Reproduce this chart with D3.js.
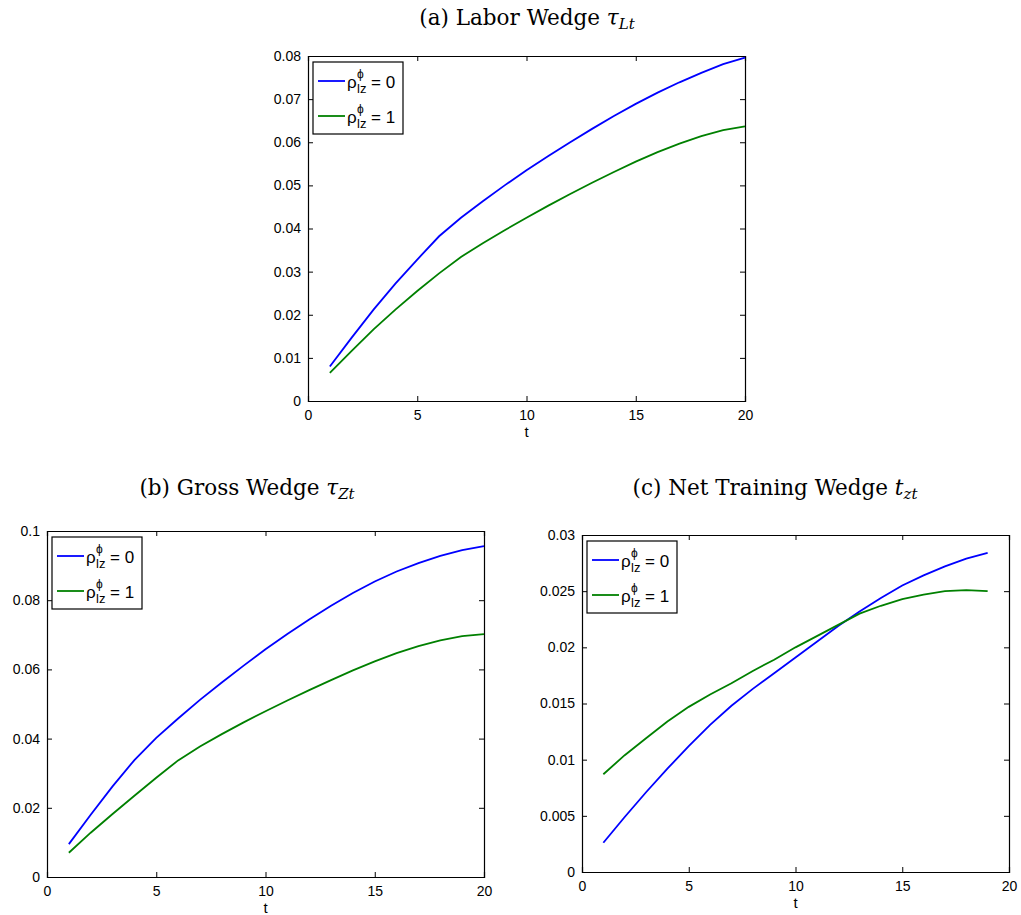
<!DOCTYPE html>
<html lang="en">
<head>
<meta charset="UTF-8">
<title>Wedges</title>
<style>
    body { margin: 0; background: #fff; }
    .tick text { font-family: "Liberation Sans", Arial, sans-serif; font-size: 14px; fill: #000; }
    .ptitle { font-family: "DejaVu Serif", serif; font-size: 21.5px; fill: #000; }
    .leg { font-family: "Liberation Sans", Arial, sans-serif; fill: #000; }
</style>
</head>
<body>
<script src="https://cdn.jsdelivr.net/npm/d3@7"></script>
<script>
    // t = 1..20 (net wedge stops at 19)
    var tVals = d3.range(1, 21)
    var tValsNet = d3.range(1, 20)

    // (a) labor wedge
    var laborRho0 = [0.0080, 0.0147, 0.0212, 0.0272, 0.0328, 0.0382, 0.0425, 0.0463, 0.0500, 0.0535,
                     0.0568, 0.0600, 0.0631, 0.0661, 0.0689, 0.0715, 0.0739, 0.0761, 0.0781, 0.0796]
    var laborRho1 = [0.0065, 0.0116, 0.0166, 0.0212, 0.0255, 0.0296, 0.0334, 0.0366, 0.0396, 0.0425,
                     0.0453, 0.0480, 0.0506, 0.0531, 0.0555, 0.0577, 0.0597, 0.0614, 0.0628, 0.0637]
    // (b) gross wedge
    var grossRho0 = [0.0095, 0.0180, 0.0262, 0.0338, 0.0402, 0.0458, 0.0512, 0.0562, 0.0611, 0.0658,
                     0.0702, 0.0744, 0.0784, 0.0821, 0.0854, 0.0883, 0.0907, 0.0928, 0.0945, 0.0956]
    var grossRho1 = [0.0070, 0.0128, 0.0182, 0.0235, 0.0287, 0.0337, 0.0377, 0.0413, 0.0447, 0.0479,
                     0.0510, 0.0540, 0.0569, 0.0597, 0.0623, 0.0647, 0.0667, 0.0684, 0.0696, 0.0702]
    // (c) net training wedge
    var netRho0 = [0.0026, 0.0049, 0.0071, 0.0092, 0.0112, 0.0131, 0.0148, 0.0163, 0.0177, 0.0191,
                   0.0205, 0.0219, 0.0232, 0.0244, 0.0255, 0.0264, 0.0272, 0.0279, 0.0284]
    var netRho1 = [0.0087, 0.0104, 0.0119, 0.0134, 0.0147, 0.0158, 0.0168, 0.0179, 0.0189, 0.0200,
                   0.0210, 0.0220, 0.0230, 0.0237, 0.0243, 0.0247, 0.0250, 0.0251, 0.0250]

    var xTicks = [0, 5, 10, 15, 20]
    var laborTicks = [0, 0.01, 0.02, 0.03, 0.04, 0.05, 0.06, 0.07, 0.08]
    var laborTickLabels = ['0', '0.01', '0.02', '0.03', '0.04', '0.05', '0.06', '0.07', '0.08']
    var grossTicks = [0, 0.02, 0.04, 0.06, 0.08, 0.1]
    var grossTickLabels = ['0', '0.02', '0.04', '0.06', '0.08', '0.1']
    var netTicks = [0, 0.005, 0.01, 0.015, 0.02, 0.025, 0.03]
    var netTickLabels = ['0', '0.005', '0.01', '0.015', '0.02', '0.025', '0.03']

    var legendValues = ['0', '1']
    var seriesColors = ['#0000ff', '#008000']

    var svg = d3.select('body').append('svg')
        .attr('width', 1021)
        .attr('height', 915)

    function drawPanel(p) {
        var x = d3.scaleLinear().domain([0, 20]).range([p.left, p.right])
        var y = d3.scaleLinear().domain([0, p.yMax]).range([p.bottom, p.top])
        var g = svg.append('g')

        // title
        var tt = g.append('text').attr('class', 'ptitle')
            .attr('x', p.titleX).attr('y', p.titleY)
            .attr('text-anchor', 'middle')
        tt.append('tspan').text(p.title + ' ')
        tt.append('tspan').attr('font-style', 'italic').text(p.sym)
        tt.append('tspan').attr('font-style', 'italic').attr('font-size', '15px')
            .attr('dy', 4).text(p.sub)

        // axes on all four sides, inward ticks
        var fmt = function (d) { return p.yLabels[p.yTicks.indexOf(d)] }
        g.append('g').attr('transform', 'translate(0,' + p.bottom + ')')
            .call(d3.axisBottom(x).tickValues(xTicks).tickSize(-5).tickPadding(9))
        g.append('g').attr('transform', 'translate(0,' + p.top + ')')
            .call(d3.axisTop(x).tickValues(xTicks).tickSize(-5).tickFormat(''))
        g.append('g').attr('transform', 'translate(' + p.left + ',0)')
            .call(d3.axisLeft(y).tickValues(p.yTicks).tickSize(-5).tickPadding(7).tickFormat(fmt))
        g.append('g').attr('transform', 'translate(' + p.right + ',0)')
            .call(d3.axisRight(y).tickValues(p.yTicks).tickSize(-5).tickFormat(''))
        g.selectAll('.domain').attr('stroke', '#000').attr('stroke-width', 1.2)
        g.selectAll('.tick line').attr('stroke', '#000')

        g.append('text').attr('class', 'leg')
            .attr('x', (p.left + p.right) / 2).attr('y', p.bottom + 36)
            .attr('text-anchor', 'middle').attr('font-size', '15px').text('t')

        // curves
        var line = d3.line().x(function (d) { return x(d[0]) }).y(function (d) { return y(d[1]) })
        p.series.forEach(function (s, i) {
            g.append('path')
                .datum(p.ts.map(function (t, k) { return [t, s[k]] }))
                .attr('fill', 'none')
                .attr('stroke', seriesColors[i])
                .attr('stroke-width', 1.8)
                .attr('d', line)
        })

        // legend
        var lx = p.left + 5, ly = p.top + 6
        var lg = g.append('g').attr('transform', 'translate(' + lx + ',' + ly + ')')
        lg.append('rect').attr('width', 90).attr('height', 72)
            .attr('fill', '#fff').attr('stroke', '#000').attr('stroke-width', 1.2)
        legendValues.forEach(function (v, i) {
            var ry = 19 + i * 35
            lg.append('line').attr('x1', 5).attr('x2', 32).attr('y1', ry).attr('y2', ry)
                .attr('stroke', seriesColors[i]).attr('stroke-width', 1.8)
            lg.append('text').attr('class', 'leg').attr('font-size', '17px')
                .attr('x', 34).attr('y', ry + 7).text('ρ')
            lg.append('text').attr('class', 'leg').attr('font-size', '12px')
                .attr('x', 44).attr('y', ry - 3).text('ϕ')
            lg.append('text').attr('class', 'leg').attr('font-size', '13px')
                .attr('x', 44).attr('y', ry + 12).text('lz')
            lg.append('text').attr('class', 'leg').attr('font-size', '17px')
                .attr('x', 58).attr('y', ry + 7).text('= ' + v)
        })
    }

    drawPanel({
        left: 308, right: 745, top: 56, bottom: 401, yMax: 0.08,
        yTicks: laborTicks, yLabels: laborTickLabels,
        title: '(a) Labor Wedge', sym: 'τ', sub: 'Lt', titleX: 527, titleY: 25,
        ts: tVals, series: [laborRho0, laborRho1]
    })
    drawPanel({
        left: 47, right: 484, top: 531, bottom: 877, yMax: 0.1,
        yTicks: grossTicks, yLabels: grossTickLabels,
        title: '(b) Gross Wedge', sym: 'τ', sub: 'Zt', titleX: 247, titleY: 495,
        ts: tVals, series: [grossRho0, grossRho1]
    })
    drawPanel({
        left: 582, right: 1009, top: 535, bottom: 872, yMax: 0.03,
        yTicks: netTicks, yLabels: netTickLabels,
        title: '(c) Net Training Wedge', sym: 't', sub: 'zt', titleX: 775, titleY: 495,
        ts: tValsNet, series: [netRho0, netRho1]
    })
</script>
</body>
</html>
